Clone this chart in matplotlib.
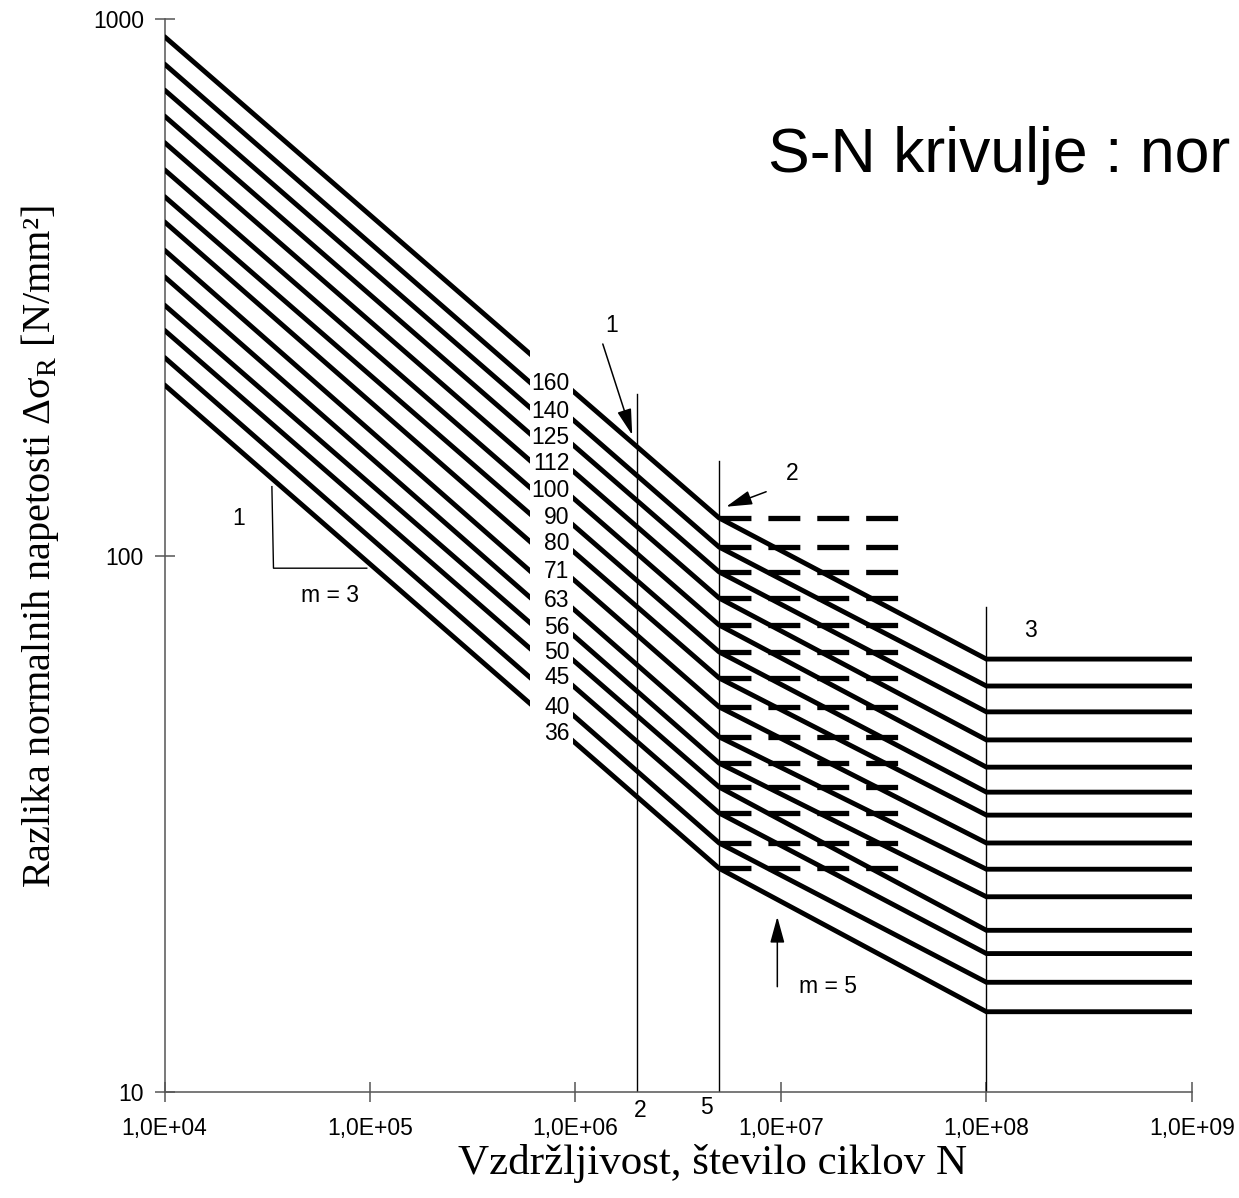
import matplotlib.pyplot as plt
import numpy as np
from matplotlib.ticker import NullLocator

plt.rcParams['font.family'] = ['Liberation Sans', 'DejaVu Sans']
plt.rcParams['lines.scale_dashes'] = False

# detail categories written on the curves
detail = [160, 140, 125, 112, 100, 90, 80, 71, 63, 56, 50, 45, 40, 36]
# stress range at N = 1e4, at the knee N = 5e6 and at the cut-off N = 1e8
s_start = [928, 825, 738, 660, 589, 524, 467, 419, 371, 331, 293, 263, 234, 208]
s_knee = [117.5, 103.7, 93.2, 83.3, 74.2, 66.1, 59.1, 52.2, 45.9, 41.0, 37.0, 33.1, 29.1, 26.1]
s_cut = [64.1, 57.1, 51.1, 45.3, 40.3, 36.2, 32.8, 29.1, 26.0, 23.1, 20.0, 18.1, 16.0, 14.1]
n_points = [1e4, 5e6, 1e8, 1e9]

# thin vertical reference lines (N, top value)
vline_n = [2e6, 5e6, 1e8]
vline_top = [200, 150, 80]

xticks = [1e4, 1e5, 1e6, 1e7, 1e8, 1e9]
xtick_labels = ['1,0E+04', '1,0E+05', '1,0E+06', '1,0E+07', '1,0E+08', '1,0E+09']
yticks = [10, 100, 1000]
ytick_labels = ['10', '100', '1000']

fig = plt.figure(figsize=(12.39, 11.98), dpi=100)
ax = fig.add_axes([0.1328, 0.0887, 0.8292, 0.8952])
ax.set_xscale('log')
ax.set_yscale('log')
ax.set_xlim(1e4, 1e9)
ax.set_ylim(10, 1000)

gap_lo, gap_hi = 6.0e5, 9.7e5
for i in range(len(detail)):
    ys = [s_start[i], s_knee[i], s_cut[i], s_cut[i]]
    ax.plot(n_points, ys, color='black', lw=3.5, solid_capstyle='round',
            solid_joinstyle='miter', zorder=3)
    # constant amplitude limit, dashed
    ax.plot([5e6, 3.77e7], [s_knee[i], s_knee[i]], color='black', lw=3.8,
            dashes=(23, 12.2), dash_capstyle='butt', zorder=3)
    # label sits in the gap of the line
    y_lab = 10 ** np.interp(np.log10(gap_hi), np.log10(n_points), np.log10(ys))
    ax.annotate(str(detail[i]), xy=(9.35e5, y_lab), xytext=(0, 5.5),
                textcoords='offset points', ha='right', va='center',
                fontsize=16.5, zorder=6)

# white cut where the labels are
ax.axvspan(gap_lo, gap_hi, ymin=0.3, ymax=0.72, color='white', lw=0, zorder=4)

for n, top in zip(vline_n, vline_top):
    ax.plot([n, n], [10, top], color='black', lw=1.0, zorder=2)

arrow = dict(arrowstyle='-|>,head_length=0.8,head_width=0.22', color='black',
             lw=1.1, shrinkA=0, shrinkB=0, mutation_scale=20)
ax.annotate('', xy=(1.888e6, 167.8), xytext=(1.358e6, 248), arrowprops=arrow)
ax.text(1.505e6, 268, '1', fontsize=16.5, ha='center', va='center')
ax.annotate('', xy=(5.41e6, 123.3), xytext=(8.47e6, 131.5), arrowprops=arrow)
ax.text(1.131e7, 142, '2', fontsize=16.5, ha='center', va='center')
ax.text(1.637e8, 72.6, '3', fontsize=16.5, ha='center', va='center')
ax.annotate('', xy=(9.6e6, 21.2), xytext=(9.6e6, 15.7), arrowprops=arrow)
ax.text(1.23e7, 15.7, 'm = 5', fontsize=16.5, ha='left', va='center')

# slope triangle m = 3
ax.plot([3.33e4, 3.39e4, 9.64e4], [134.4, 94.7, 94.7], color='black', lw=1.0)
ax.text(2.305e4, 117, '1', fontsize=16.5, ha='center', va='center')
ax.text(6.37e4, 84.4, 'm = 3', fontsize=16.5, ha='center', va='center')

# extra marks under the axis
ax.text(2.07e6, -0.0171, '2', fontsize=16.5, ha='center', va='center',
        transform=ax.get_xaxis_transform())
ax.text(4.34e6, -0.0143, '5', fontsize=16.5, ha='center', va='center',
        transform=ax.get_xaxis_transform())

for s in ['top', 'right']:
    ax.spines[s].set_visible(False)
for s in ['left', 'bottom']:
    ax.spines[s].set_color('#555555')
    ax.spines[s].set_linewidth(1.1)

ax.set_xticks(xticks)
ax.set_xticklabels(xtick_labels)
ax.set_yticks(yticks)
ax.set_yticklabels(ytick_labels)
ax.xaxis.set_minor_locator(NullLocator())
ax.yaxis.set_minor_locator(NullLocator())
ax.tick_params(axis='x', direction='inout', length=14, width=1.1, color='#555555',
               labelsize=16.5, pad=11)
ax.tick_params(axis='y', direction='inout', length=14, width=1.1, color='#555555',
               labelsize=16.5, pad=7.8)

# title is cut at the right border in the reference, only this part is visible
fig.text(0.6199, 0.8706, 'S-N krivulje : nor', fontsize=45,
         ha='left', va='center')
fig.text(0.5755, 0.0292, 'Vzdržljivost, število ciklov N', fontsize=31,
         family='Liberation Serif', ha='center', va='center')
fig.text(0.0323, 0.5434, 'Razlika normalnih napetosti Δσ$_\\mathregular{R}$ [N/mm²]',
         fontsize=29, family='Liberation Serif', rotation=90, ha='center', va='center')

fig.savefig('out.png', dpi=100)
